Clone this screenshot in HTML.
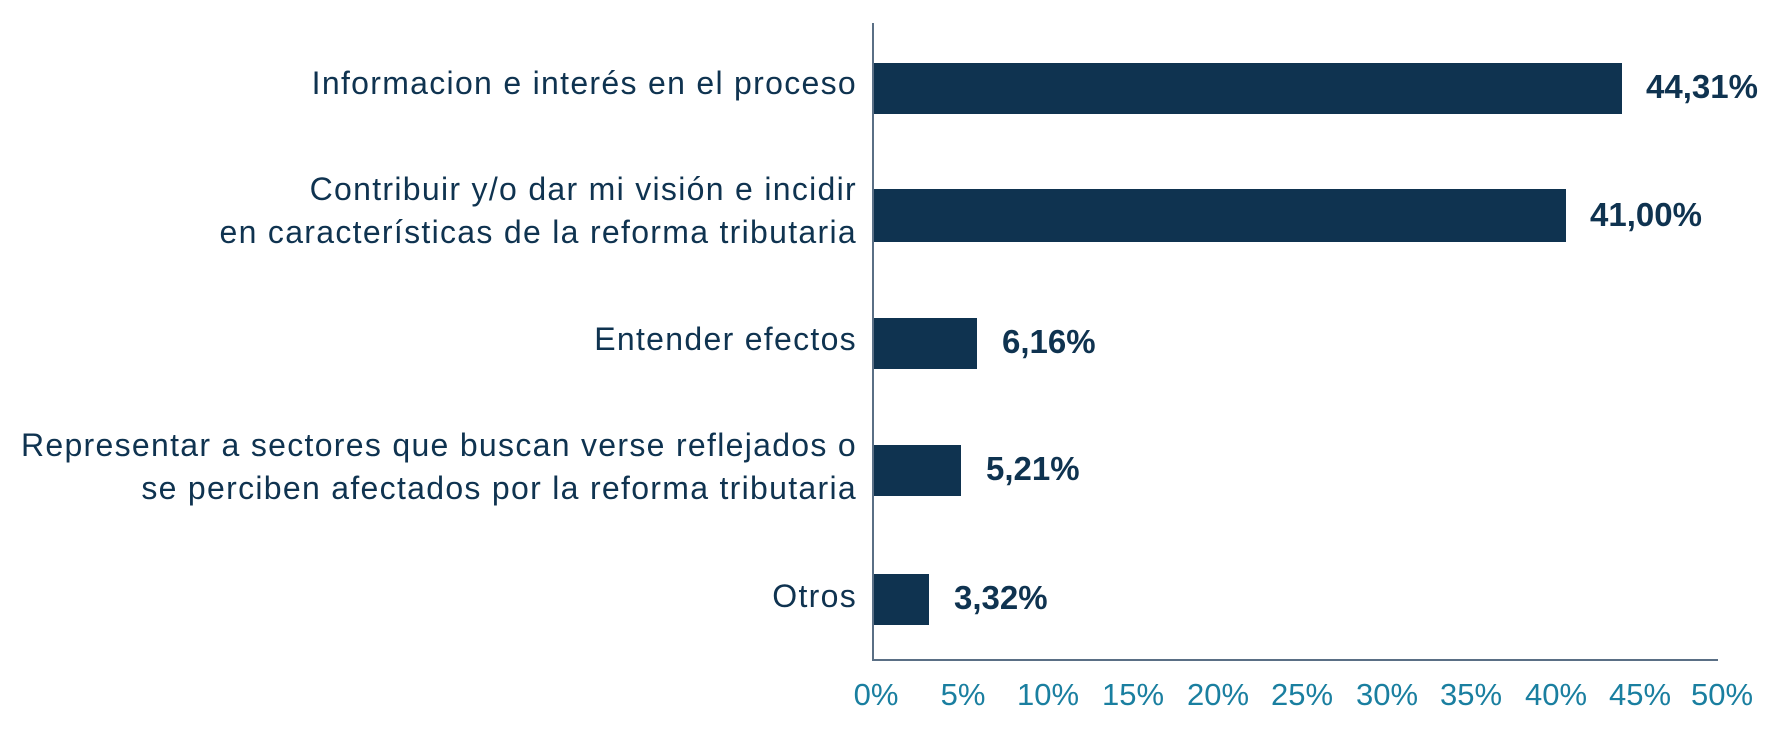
<!DOCTYPE html>
<html><head><meta charset="utf-8"><style>
body{margin:0;background:#fff;width:1779px;height:739px;overflow:hidden;font-family:"Liberation Sans",sans-serif}
</style></head><body>
<svg width="1779" height="739" xmlns="http://www.w3.org/2000/svg" font-family="Liberation Sans, sans-serif">
<g fill="#0f3350">
<rect x="873" y="63" width="749" height="51"/>
<rect x="873" y="189" width="693" height="53"/>
<rect x="873" y="318" width="104" height="51"/>
<rect x="873" y="445" width="88" height="51"/>
<rect x="873" y="574" width="56" height="51"/>
</g>
<line x1="873" y1="23" x2="873" y2="661" stroke="#5a6f85" stroke-width="2"/>
<line x1="873" y1="660" x2="1718" y2="660" stroke="#5a6f85" stroke-width="2"/>
<g fill="#0f3350" font-size="33" font-weight="bold">
<text x="1646" y="98">44,31%</text>
<text x="1590" y="226">41,00%</text>
<text x="1002" y="353">6,16%</text>
<text x="986" y="480">5,21%</text>
<text x="954" y="609">3,32%</text>
</g>
<g fill="#0f3350" font-size="32" letter-spacing="1.3" text-anchor="end">
<text x="857" y="94">Informacion e interés en el proceso</text>
<text x="857" y="200">Contribuir y/o dar mi visión e incidir</text>
<text x="857" y="243">en características de la reforma tributaria</text>
<text x="857" y="350">Entender efectos</text>
<text x="857" y="456">Representar a sectores que buscan verse reflejados o</text>
<text x="857" y="499">se perciben afectados por la reforma tributaria</text>
<text x="857" y="607">Otros</text>
</g>
<g fill="#1a7fa0" font-size="31" text-anchor="middle">
<text x="876" y="705">0%</text>
<text x="963" y="705">5%</text>
<text x="1048" y="705">10%</text>
<text x="1133" y="705">15%</text>
<text x="1218" y="705">20%</text>
<text x="1302" y="705">25%</text>
<text x="1387" y="705">30%</text>
<text x="1471" y="705">35%</text>
<text x="1556" y="705">40%</text>
<text x="1640" y="705">45%</text>
<text x="1722" y="705">50%</text>
</g>
</svg>
</body></html>
